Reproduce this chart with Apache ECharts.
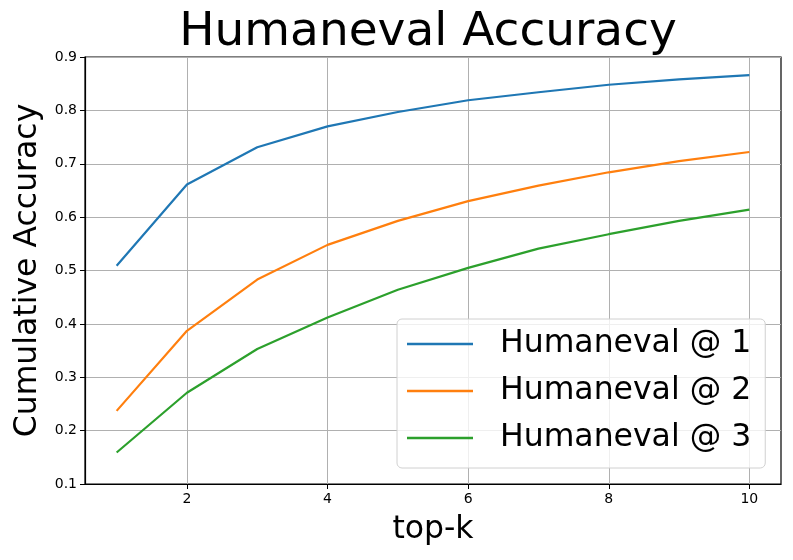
<!DOCTYPE html>
<html>
<head>
<meta charset="utf-8">
<script src="https://cdn.jsdelivr.net/npm/echarts@6/dist/echarts.min.js"></script>
<style>
html,body{margin:0;padding:0;background:#fff;}
#chart{width:793px;height:560px;}
</style>
</head>
<body>
<div id="chart"></div>
<script>
// top-k 取值与三条累计准确率曲线
const topK = [1, 2, 3, 4, 5, 6, 7, 8, 9, 10];
const acc1 = [0.509, 0.661, 0.731, 0.770, 0.797, 0.819, 0.834, 0.848, 0.858, 0.866];
const acc2 = [0.237, 0.387, 0.483, 0.548, 0.593, 0.630, 0.659, 0.684, 0.705, 0.722];
const acc3 = [0.159, 0.271, 0.353, 0.412, 0.464, 0.505, 0.541, 0.568, 0.593, 0.614];
const seriesNames = ['Humaneval @ 1', 'Humaneval @ 2', 'Humaneval @ 3'];
const xTicks = [2, 4, 6, 8, 10];

const font = 'DejaVu Sans';
const colors = ['#1f77b4', '#ff7f0e', '#2ca02c'];

function pairs(ys) {
  return topK.map((k, i) => [k, ys[i]]);
}

const myChart = echarts.init(document.getElementById('chart'));
const option = {
  animation: false,
  color: colors,
  title: {
    text: 'Humaneval Accuracy',
    left: 423,
    top: 4,
    textAlign: 'center',
    textStyle: {fontFamily: font, fontSize: 47, fontWeight: 'normal', color: '#000'}
  },
  grid: {
    left: 85, right: 12, top: 57, bottom: 76,
    show: true, borderColor: '#000', borderWidth: 1.2, backgroundColor: 'transparent'
  },
  legend: {
    orient: 'vertical',
    left: 397, top: 319,
    padding: [7, 14, 12, 10],
    backgroundColor: 'rgba(255,255,255,0.8)',
    borderColor: '#d0d0d0', borderWidth: 1, borderRadius: 5,
    icon: 'rect',
    itemWidth: 66, itemHeight: 2.5,
    itemGap: 11,
    textStyle: {fontFamily: font, fontSize: 31.5, color: '#000', padding: [0, 0, 0, 22], lineHeight: 36},
    data: seriesNames
  },
  xAxis: {
    type: 'value',
    min: 0.55, max: 10.45,
    name: 'top-k',
    nameLocation: 'middle',
    nameGap: 30,
    nameTextStyle: {fontFamily: font, fontSize: 31.5, color: '#000'},
    axisLine: {lineStyle: {color: '#000', width: 1.2}},
    axisTick: {show: true, inside: false, length: 5, customValues: xTicks, lineStyle: {color: '#000'}},
    axisLabel: {customValues: xTicks, fontFamily: font, fontSize: 14, color: '#000', margin: 8},
    splitLine: {show: true, lineStyle: {color: '#b0b0b0', width: 1}}
  },
  yAxis: {
    type: 'value',
    min: 0.1, max: 0.9, interval: 0.1,
    name: 'Cumulative Accuracy',
    nameLocation: 'middle',
    nameGap: 41,
    nameTextStyle: {fontFamily: font, fontSize: 31.5, color: '#000'},
    axisLine: {show: true, lineStyle: {color: '#000', width: 1.2}},
    axisTick: {show: true, length: 5, lineStyle: {color: '#000'}},
    axisLabel: {fontFamily: font, fontSize: 14, color: '#000', margin: 8, formatter: v => v.toFixed(1)},
    splitLine: {show: true, lineStyle: {color: '#b0b0b0', width: 1}}
  },
  series: [acc1, acc2, acc3].map((ys, i) => ({
    name: seriesNames[i],
    type: 'line',
    data: pairs(ys),
    showSymbol: false,
    lineStyle: {width: 2.2, color: colors[i]},
    itemStyle: {color: colors[i]}
  }))
};
myChart.setOption(option);
window.addEventListener('resize', function () {
  myChart.resize();
});
</script>
</body>
</html>
